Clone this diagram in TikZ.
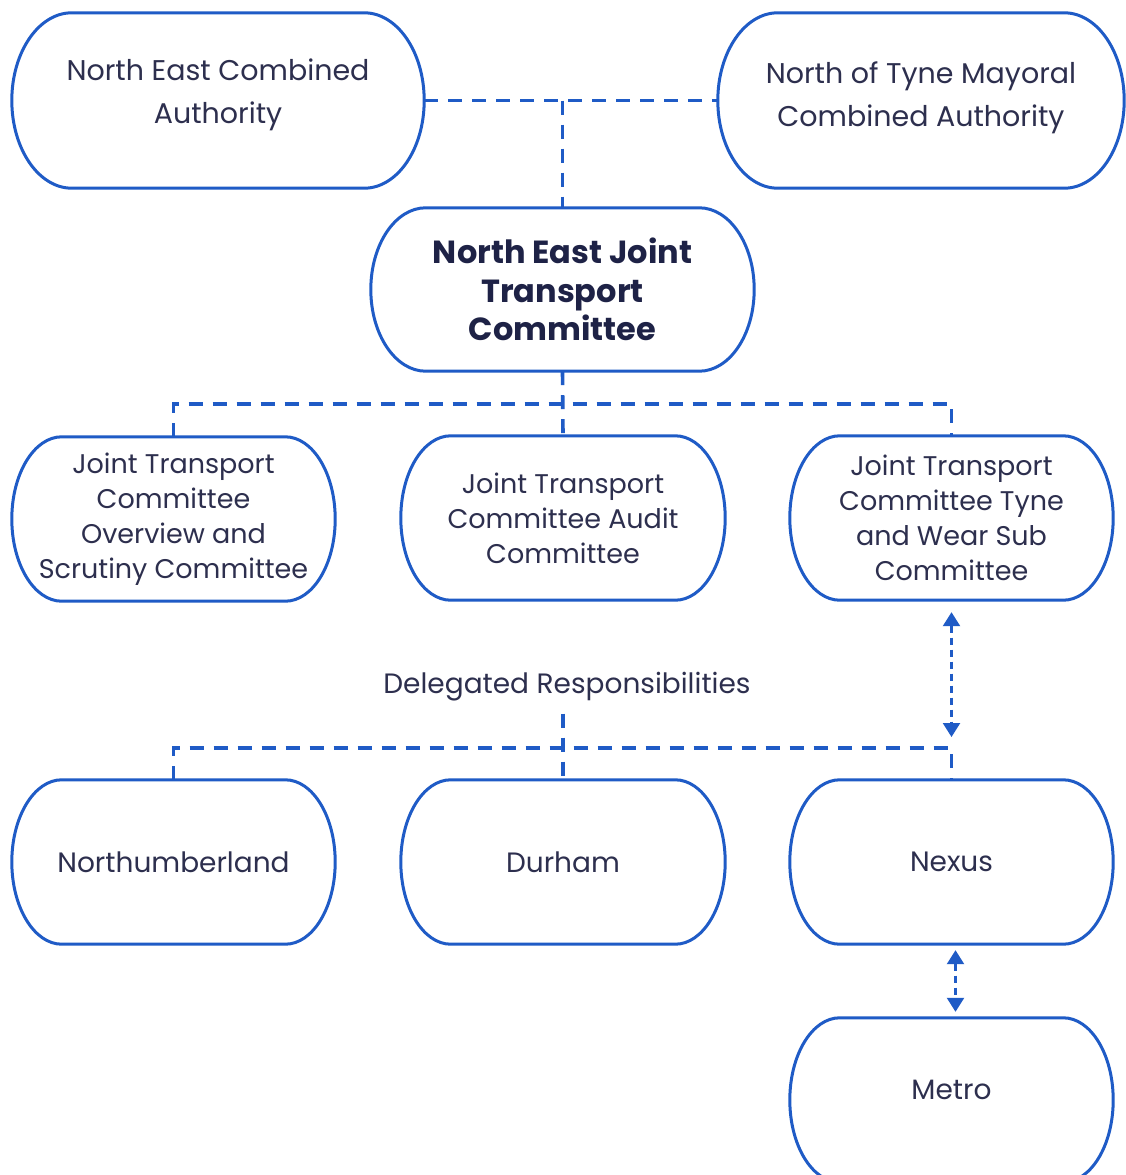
\documentclass[tikz,border=0pt]{standalone}
\usepackage{fontspec}
\setmainfont{Poppins}
\usetikzlibrary{calc,arrows.meta}
\definecolor{lineblue}{HTML}{1F5BC6}
\definecolor{txt}{HTML}{2D2F4E}
\definecolor{txtb}{HTML}{1E2246}
\begin{document}
\begin{tikzpicture}[x=1pt,y=-1pt,
  stad/.style={minimum width=#1, inner sep=0pt, align=center, text=txt},
  topbox/.style={stad=412pt, minimum height=175pt, font=\fontsize{28.5}{43}\selectfont},
  midbox/.style={stad=323pt, minimum height=164pt, font=\fontsize{27}{35}\selectfont},
  lowbox/.style={stad=323pt, minimum height=164pt, font=\fontsize{28}{35}\selectfont},
  outline/.style={draw=lineblue, line width=3pt},
  conn/.style={draw=lineblue, line width=3.6pt, dash pattern=on 14pt off 10pt},
  dblarrow/.style={draw=lineblue, line width=2.4pt, dash pattern=on 7pt off 5pt,
    {Triangle[width=17pt,length=14pt]}-{Triangle[width=17pt,length=14pt]}}]
\useasboundingbox (0,0) rectangle (1126,1175);
\fill[white] (0,0) rectangle (1126,1175);

% top row
\node[topbox] (neca) at (218,100.5) {\raisebox{7pt}[\height][\depth]{\begin{tabular}{@{}c@{}}North East Combined\\Authority\end{tabular}}};
\node[topbox, minimum width=406pt] (ntmca) at (921,100.5) {\raisebox{4.5pt}[\height][\depth]{\begin{tabular}{@{}c@{}}North of Tyne Mayoral\\Combined Authority\end{tabular}}};
\node[stad=383pt, minimum height=163pt, text=txtb, font=\fontsize{32}{38.5}\selectfont\bfseries] (nejtc) at (562.5,289.5) {North East Joint\\Transport\\Committee};

% committees
\node[midbox] (osc) at (173.5,519) {Joint Transport\\Committee\\Overview and\\Scrutiny Committee};
\node[midbox, minimum width=324pt] (audit) at (563,518) {Joint Transport\\Committee Audit\\Committee};
\node[midbox] (tw) at (951.5,518) {Joint Transport\\Committee Tyne\\and Wear Sub\\Committee};

\node[text=txt, font=\fontsize{28}{30}\selectfont, inner sep=0pt] (deleg) at (567,687) {Delegated Responsibilities};

% delivery bodies
\node[lowbox] (north) at (173.5,862) {Northumberland};
\node[lowbox, minimum width=324pt] (dur) at (563,862) {Durham};
\node[lowbox] (nexus) at (951.5,862) {Nexus};
\node[lowbox] (metro) at (951.5,1100) {\raisebox{10pt}[\height][\depth]{Metro}};

% outlines
\foreach \b/\r in {neca/60,ntmca/60,nejtc/55,osc/50,audit/50,tw/50,north/50,dur/50,nexus/50,metro/50}{
  \draw[outline] let \p1=(\b.north west), \p2=(\b.south east) in
    ({\x1+\r pt},\y1) -- ({\x2-\r pt},\y1)
    arc[start angle=90, end angle=-90, x radius=\r pt, y radius={(\y1-\y2)/2}]
    -- ({\x1+\r pt},\y2)
    arc[start angle=270, end angle=90, x radius=\r pt, y radius={(\y1-\y2)/2}]
    -- cycle;
}

% connectors top
\draw[conn] (neca.east) -- (ntmca.east -| ntmca.west);
\draw[conn] (neca.east -| nejtc.north) -- (nejtc.north);

% connectors to committees
\coordinate (j1) at (562,404);
\draw[conn] (nejtc.south) -- (audit.north);
\draw[conn] (osc.north) -- (osc.north |- j1) -- (tw.north |- j1) -- (tw.north);

% connectors to delivery bodies
\coordinate (j2) at (562,748);
\coordinate (twj) at (951.5,748);
\draw[conn] (deleg.south -| dur.north) ++(0,12) -- (dur.north);
\draw[conn] (north.north) -- (north.north |- j2) -- (twj) -- (nexus.north);

% arrows
\draw[dblarrow] ([yshift=-12pt]tw.south) -- ([yshift=11pt]twj);
\draw[dblarrow] ([xshift=4pt,yshift=-6pt]nexus.south) -- ([xshift=4pt,yshift=6pt]metro.north);
\end{tikzpicture}
\end{document}
